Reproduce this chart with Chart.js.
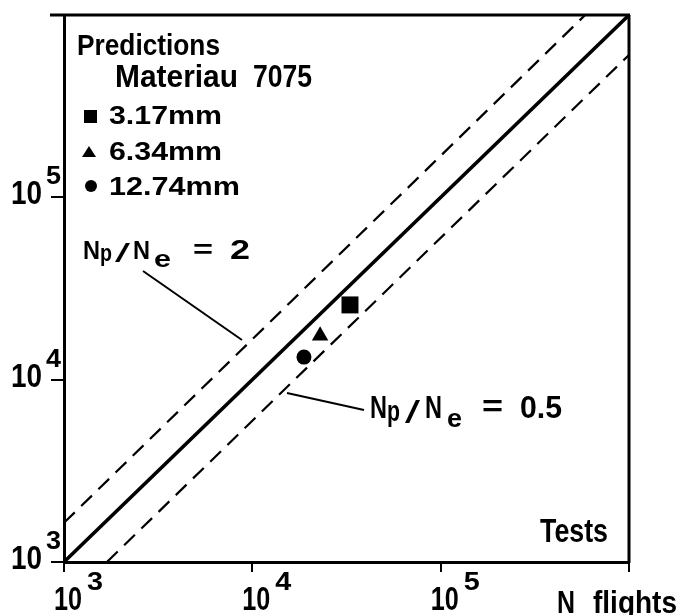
<!DOCTYPE html>
<html>
<head>
<meta charset="UTF-8">
<title>Predictions vs Tests</title>
<script src="https://cdn.jsdelivr.net/npm/chart.js"></script>
<style>
    body { margin: 0; background: #fff; }
    canvas { display: block; }
</style>
</head>
<body>
<canvas id="c" width="684" height="615"></canvas>
<script>
// decades on both axes
const decades = [1e3, 1e4, 1e5, 1e6];

// N_p = N_e and the two scatter-band lines (as drawn in the figure)
const equalX = [1000, 1000000];
const equalY = [1000, 1000000];
const upperX = [1000, 585000];
const upperY = [1640, 1000000];
const lowerX = [1690, 1000000];
const lowerY = [1000, 604000];

// Materiau 7075, one point per thickness
const thickness = ['3.17mm', '6.34mm', '12.74mm'];
const testN = [33000, 22900, 18800];
const predN = [25700, 17400, 13300];

const FONT = '"Liberation Sans", Arial, sans-serif';

function pts(xs, ys) {
    return xs.map((x, i) => ({ x: x, y: ys[i] }));
}

// draw text squeezed/stretched to a given width
function tw(ctx, s, x, y, size, w, weight) {
    ctx.font = (weight || 'bold') + ' ' + size + 'px ' + FONT;
    const nat = ctx.measureText(s).width;
    ctx.save();
    ctx.translate(x, y);
    ctx.scale(w / nat, 1);
    ctx.fillText(s, 0, 0);
    ctx.restore();
}

function line(ctx, x1, y1, x2, y2, lw) {
    ctx.beginPath();
    ctx.lineWidth = lw;
    ctx.moveTo(x1, y1);
    ctx.lineTo(x2, y2);
    ctx.stroke();
}

const decor = {
    id: 'decor',
    afterDraw(chart) {
        const ctx = chart.ctx;
        const a = chart.chartArea;
        const xs = chart.scales.x, ys = chart.scales.y;
        ctx.save();
        ctx.fillStyle = '#000';
        ctx.strokeStyle = '#000';
        ctx.setLineDash([]);
        ctx.textAlign = 'left';
        ctx.textBaseline = 'alphabetic';

        // top and right frame
        line(ctx, a.left - 14, a.top, a.right + 1, a.top, 3);
        line(ctx, a.right, a.top, a.right, a.bottom + 1, 3);

        // tick labels 10^n
        decades.slice(0, 3).forEach(v => {
            const px = xs.getPixelForValue(v);
            tw(ctx, '10', px - 10, 610, 33, 28);
            tw(ctx, String(Math.log10(v)), px + 23, 590, 26, 16);
            const py = ys.getPixelForValue(v);
            tw(ctx, '10', 11, py + 7, 33, 31);
            tw(ctx, String(Math.log10(v)), 46, py - 13, 25, 15);
        });

        // axis names
        tw(ctx, 'N', 557, 613, 32, 18);
        tw(ctx, 'flights', 593, 613, 32, 84);
        tw(ctx, 'Tests', 540, 542, 33, 68);

        // legend
        tw(ctx, 'Predictions', 77, 55, 30, 143);
        tw(ctx, 'Materiau', 115, 87, 32, 123);
        tw(ctx, '7075', 253, 87, 32, 59);
        const rows = [124, 160, 195];
        const widths = [113, 113, 131];
        thickness.forEach((t, i) => tw(ctx, t, 109, rows[i], 25, widths[i]));
        ctx.fillRect(84, 110, 13, 13);
        ctx.beginPath();
        ctx.moveTo(89, 146); ctx.lineTo(96, 157); ctx.lineTo(82, 157); ctx.closePath();
        ctx.fill();
        ctx.beginPath();
        ctx.arc(91, 186, 6, 0, Math.PI * 2);
        ctx.fill();

        // Np/Ne = 2
        tw(ctx, 'N', 83, 259, 25, 17);
        tw(ctx, 'p', 100, 261, 24, 12);
        tw(ctx, '/', 115, 262, 26, 15, 'normal');
        tw(ctx, 'N', 133, 259, 25, 17);
        tw(ctx, 'e', 154, 267, 24, 17);
        tw(ctx, '=', 193, 258, 26, 20);
        tw(ctx, '2', 230, 259, 27, 20);
        line(ctx, 143, 271, 242, 340, 2);

        // Np/Ne = 0.5
        tw(ctx, 'N', 370, 418, 32, 17);
        tw(ctx, 'p', 387, 421, 30, 13);
        tw(ctx, '/', 405, 423, 32, 15, 'normal');
        tw(ctx, 'N', 425, 418, 32, 17);
        tw(ctx, 'e', 447, 427, 26, 15);
        tw(ctx, '=', 482, 416, 30, 21);
        tw(ctx, '0.5', 520, 418, 32, 42);
        line(ctx, 287, 393, 364, 410, 2);

        ctx.restore();
    }
};

const logAxis = (pos) => ({
    type: 'logarithmic',
    position: pos,
    min: 1000,
    max: 1000000,
    afterBuildTicks: s => { s.ticks = decades.map(v => ({ value: v })); },
    afterFit: s => {
        if (pos === 'bottom') s.height = 53; else s.width = 64;
    },
    ticks: { display: false },
    grid: {
        display: true,
        drawOnChartArea: false,
        drawTicks: true,
        tickLength: pos === 'bottom' ? 10 : 13,
        lineWidth: 2,
        color: '#000'
    },
    border: { display: true, color: '#000', width: 3 }
});

const markerStyles = ['rect', 'triangle', 'circle'];
const markerSizes = [12, 9.5, 7.5];

new Chart(document.getElementById('c'), {
    type: 'scatter',
    data: {
        datasets: [
            { data: pts(equalX, equalY), showLine: true, borderColor: '#000', borderWidth: 3.5, pointRadius: 0 },
            { data: pts(upperX, upperY), showLine: true, borderColor: '#000', borderWidth: 2.2, borderDash: [15, 9], pointRadius: 0 },
            { data: pts(lowerX, lowerY), showLine: true, borderColor: '#000', borderWidth: 2.2, borderDash: [15, 9], pointRadius: 0 }
        ].concat(thickness.map((t, i) => ({
            label: t,
            data: [{ x: testN[i], y: predN[i] }],
            pointStyle: markerStyles[i],
            pointRadius: markerSizes[i],
            backgroundColor: '#000',
            borderColor: '#000',
            borderWidth: 0
        })))
    },
    options: {
        responsive: false,
        animation: false,
        layout: { padding: { top: 15, right: 55, left: 0, bottom: 0 } },
        plugins: { legend: { display: false }, tooltip: { enabled: false } },
        scales: { x: logAxis('bottom'), y: logAxis('left') }
    },
    plugins: [decor]
});
</script>
</body>
</html>
